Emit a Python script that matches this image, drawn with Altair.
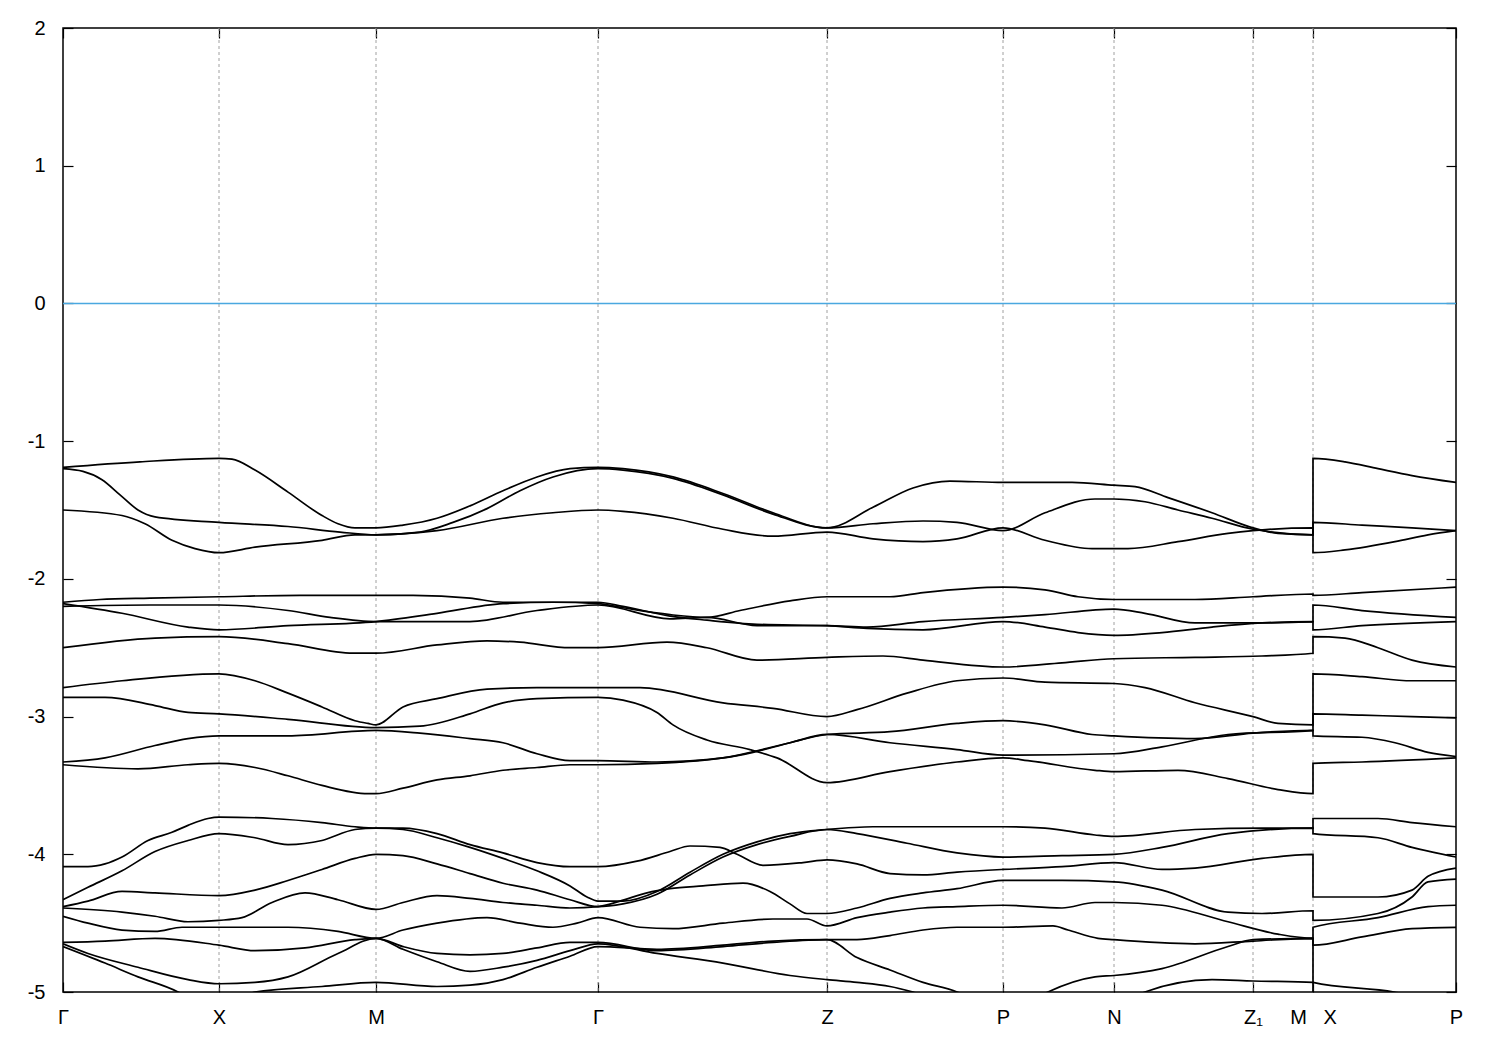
import altair as alt
import pandas as pd

# high-symmetry path positions (arbitrary path units) and labels
K_TICKS = [0, 156, 313, 535, 764, 940, 1051, 1190, 1250, 1393]
K_NAMES = ["Γ", "X", "M", "Γ", "Z", "P", "N", "Z₁", "M\u00a0\u00a0\u00a0X", "P"]
K_GRID = [156, 313, 535, 764, 940, 1051, 1190, 1250]
Y_TICKS = [-5, -4, -3, -2, -1, 0, 1, 2]
FERMI = [0.0]

# bands: (k, E in eV)
BAND_T1 = [(0,-1.19),(77,-1.15),(156,-1.125),(169,-1.13),(192,-1.21),(225,-1.37),(259,-1.54),(275,-1.60),(292,-1.63),(313,-1.63),(340,-1.61),(374,-1.56),(407,-1.47),(440,-1.36),(474,-1.26),(507,-1.20),(535,-1.19),(560,-1.20),(610,-1.26),(660,-1.38),(710,-1.52),(764,-1.63),(810,-1.48),(850,-1.34),(887,-1.29),(940,-1.30),(1009,-1.30),(1051,-1.32),(1072,-1.33),(1105,-1.41),(1149,-1.52),(1190,-1.63),(1215,-1.67),(1250,-1.68),(1250,-1.125),(1282,-1.15),(1315,-1.20),(1349,-1.25),(1393,-1.30)]
BAND_T2 = [(0,-1.20),(20,-1.22),(39,-1.28),(57,-1.39),(75,-1.50),(92,-1.55),(156,-1.59),(225,-1.62),(277,-1.66),(313,-1.68),(357,-1.66),(390,-1.59),(424,-1.49),(457,-1.36),(490,-1.26),(535,-1.20),(560,-1.21),(610,-1.27),(660,-1.39),(710,-1.53),(764,-1.63),(810,-1.60),(860,-1.58),(894,-1.59),(940,-1.65),(982,-1.52),(1032,-1.42),(1051,-1.42),(1082,-1.44),(1115,-1.50),(1149,-1.56),(1190,-1.64),(1250,-1.68),(1250,-1.59),(1299,-1.61),(1349,-1.63),(1393,-1.65)]
BAND_T3 = [(0,-1.50),(59,-1.54),(82,-1.60),(109,-1.72),(132,-1.78),(156,-1.81),(192,-1.77),(259,-1.72),(292,-1.68),(313,-1.68),(374,-1.65),(440,-1.56),(490,-1.52),(535,-1.50),(560,-1.51),(610,-1.56),(660,-1.64),(710,-1.69),(764,-1.66),(810,-1.71),(860,-1.73),(894,-1.71),(940,-1.63),(982,-1.72),(1029,-1.78),(1065,-1.78),(1115,-1.73),(1165,-1.67),(1190,-1.65),(1250,-1.63),(1250,-1.81),(1282,-1.79),(1332,-1.73),(1365,-1.68),(1393,-1.65)]

BAND_U1 = [(0,-2.17),(37,-2.15),(87,-2.14),(156,-2.13),(237,-2.12),(313,-2.12),(350,-2.12),(407,-2.14),(440,-2.17),(490,-2.17),(535,-2.18),(560,-2.21),(607,-2.26),(644,-2.28),(677,-2.23),(727,-2.16),(764,-2.13),(827,-2.13),(860,-2.10),(940,-2.06),(982,-2.08),(1015,-2.13),(1051,-2.15),(1132,-2.15),(1190,-2.13),(1250,-2.11),(1250,-2.12),(1299,-2.10),(1393,-2.06)]
BAND_U2 = [(0,-2.20),(87,-2.19),(156,-2.19),(225,-2.23),(267,-2.28),(313,-2.31),(340,-2.31),(407,-2.31),(474,-2.23),(535,-2.19),(607,-2.29),(644,-2.28),(694,-2.34),(764,-2.34),(804,-2.35),(860,-2.31),(940,-2.28),(982,-2.26),(1051,-2.22),(1082,-2.25),(1132,-2.32),(1190,-2.32),(1250,-2.31),(1250,-2.19),(1299,-2.23),(1393,-2.28)]
BAND_U3 = [(0,-2.18),(59,-2.25),(125,-2.35),(156,-2.37),(225,-2.34),(313,-2.31),(374,-2.25),(440,-2.18),(490,-2.17),(535,-2.17),(560,-2.20),(607,-2.27),(644,-2.30),(694,-2.33),(764,-2.34),(804,-2.36),(860,-2.37),(940,-2.31),(982,-2.35),(1015,-2.39),(1051,-2.41),(1099,-2.39),(1149,-2.35),(1199,-2.32),(1250,-2.31),(1250,-2.37),(1299,-2.34),(1393,-2.31)]
BAND_U4 = [(0,-2.50),(92,-2.43),(156,-2.42),(225,-2.47),(290,-2.54),(313,-2.54),(374,-2.48),(424,-2.45),(457,-2.46),(507,-2.50),(535,-2.50),(604,-2.46),(644,-2.50),(694,-2.59),(764,-2.57),(820,-2.56),(860,-2.59),(940,-2.64),(999,-2.61),(1051,-2.58),(1132,-2.57),(1199,-2.56),(1250,-2.54),(1250,-2.42),(1282,-2.43),(1315,-2.50),(1349,-2.59),(1393,-2.64)]

BAND_V1 = [(0,-2.79),(59,-2.74),(156,-2.69),(192,-2.74),(225,-2.83),(259,-2.93),(292,-3.03),(305,-3.05),(313,-3.06),(340,-2.93),(374,-2.87),(424,-2.80),(474,-2.79),(535,-2.79),(577,-2.79),(660,-2.90),(710,-2.94),(764,-3.00),(794,-2.95),(844,-2.83),(894,-2.74),(940,-2.72),(982,-2.75),(1051,-2.76),(1082,-2.79),(1132,-2.90),(1190,-3.00),(1215,-3.05),(1250,-3.06),(1250,-2.69),(1299,-2.71),(1349,-2.74),(1393,-2.74)]
BAND_V2 = [(0,-2.86),(42,-2.86),(92,-2.92),(125,-2.97),(156,-2.98),(225,-3.02),(313,-3.08),(357,-3.07),(407,-2.98),(440,-2.90),(474,-2.87),(535,-2.86),(560,-2.88),(594,-2.97),(610,-3.06),(644,-3.17),(687,-3.24),(714,-3.30),(764,-3.48),(827,-3.40),(894,-3.33),(940,-3.30),(965,-3.32),(1032,-3.39),(1051,-3.40),(1115,-3.39),(1165,-3.45),(1215,-3.53),(1250,-3.56),(1250,-3.34),(1299,-3.33),(1393,-3.30)]
BAND_V3 = [(0,-3.33),(42,-3.30),(92,-3.21),(125,-3.16),(156,-3.14),(225,-3.14),(313,-3.10),(357,-3.12),(407,-3.16),(440,-3.19),(474,-3.27),(507,-3.32),(535,-3.32),(594,-3.33),(660,-3.30),(690,-3.26),(727,-3.19),(764,-3.13),(827,-3.11),(894,-3.05),(940,-3.03),(982,-3.06),(1029,-3.13),(1051,-3.14),(1132,-3.16),(1190,-3.12),(1250,-3.10),(1250,-3.14),(1299,-3.15),(1332,-3.19),(1365,-3.26),(1393,-3.29)]
BAND_V4 = [(0,-3.35),(75,-3.38),(125,-3.35),(156,-3.34),(192,-3.37),(225,-3.43),(259,-3.50),(305,-3.56),(313,-3.56),(340,-3.52),(374,-3.46),(407,-3.43),(440,-3.39),(474,-3.37),(507,-3.35),(535,-3.35),(594,-3.34),(660,-3.30),(727,-3.19),(764,-3.13),(827,-3.19),(894,-3.24),(940,-3.28),(1051,-3.27),(1099,-3.22),(1165,-3.13),(1250,-3.10),(1250,-2.98),(1299,-2.99),(1349,-3.00),(1393,-3.01)]

BAND_Wa = [(0,-4.09),(25,-4.09),(42,-4.07),(59,-4.02),(85,-3.90),(109,-3.84),(125,-3.79),(145,-3.74),(156,-3.73),(209,-3.74),(259,-3.77),(292,-3.80),(313,-3.81),(340,-3.81),(374,-3.85),(407,-3.93),(440,-3.99),(474,-4.06),(507,-4.09),(535,-4.09),(574,-4.05),(607,-3.98),(627,-3.94),(657,-3.95),(674,-4.00),(700,-4.08),(740,-4.06),(764,-4.04),(794,-4.07),(827,-4.14),(860,-4.15),(894,-4.13),(940,-4.11),(999,-4.09),(1051,-4.06),(1099,-4.11),(1132,-4.10),(1199,-4.03),(1250,-4.00),(1250,-4.31),(1315,-4.31),(1349,-4.26),(1365,-4.16),(1393,-4.10)]
BAND_Wb = [(0,-4.33),(25,-4.24),(59,-4.12),(92,-3.98),(125,-3.90),(156,-3.85),(192,-3.88),(225,-3.93),(259,-3.90),(292,-3.82),(313,-3.81),(340,-3.82),(374,-3.88),(407,-3.95),(440,-4.03),(474,-4.12),(507,-4.23),(524,-4.31),(535,-4.34),(560,-4.34),(594,-4.27),(627,-4.13),(660,-4.00),(694,-3.91),(727,-3.85),(764,-3.82),(810,-3.80),(860,-3.80),(940,-3.80),(982,-3.81),(1032,-3.86),(1051,-3.87),(1132,-3.82),(1199,-3.81),(1250,-3.81),(1250,-3.74),(1315,-3.74),(1349,-3.77),(1393,-3.80)]
BAND_Wc = [(0,-4.38),(25,-4.34),(59,-4.27),(92,-4.28),(156,-4.30),(192,-4.26),(225,-4.19),(259,-4.11),(292,-4.03),(313,-4.00),(340,-4.01),(374,-4.07),(407,-4.14),(440,-4.21),(474,-4.26),(507,-4.33),(535,-4.38),(560,-4.36),(594,-4.29),(627,-4.15),(660,-4.02),(694,-3.93),(727,-3.87),(764,-3.82),(794,-3.85),(844,-3.92),(894,-3.99),(940,-4.02),(999,-4.01),(1051,-4.00),(1099,-3.95),(1165,-3.85),(1250,-3.81),(1250,-3.85),(1315,-3.88),(1349,-3.95),(1393,-4.02)]
BAND_Wd = [(0,-4.39),(59,-4.42),(92,-4.45),(125,-4.49),(156,-4.48),(179,-4.46),(209,-4.35),(242,-4.28),(275,-4.33),(313,-4.40),(340,-4.35),(374,-4.30),(407,-4.32),(440,-4.35),(474,-4.37),(507,-4.39),(535,-4.38),(557,-4.34),(584,-4.28),(607,-4.25),(640,-4.23),(680,-4.21),(707,-4.27),(727,-4.36),(744,-4.43),(764,-4.43),(794,-4.39),(827,-4.32),(860,-4.28),(894,-4.25),(940,-4.19),(999,-4.19),(1051,-4.20),(1099,-4.26),(1165,-4.42),(1199,-4.43),(1250,-4.41),(1250,-4.48),(1315,-4.43),(1349,-4.31),(1365,-4.20),(1393,-4.18)]
BAND_We = [(0,-4.45),(25,-4.50),(59,-4.55),(92,-4.56),(119,-4.53),(156,-4.53),(225,-4.53),(275,-4.56),(313,-4.61),(340,-4.55),(374,-4.50),(424,-4.46),(457,-4.50),(490,-4.53),(514,-4.50),(535,-4.46),(577,-4.53),(610,-4.54),(660,-4.50),(710,-4.47),(744,-4.47),(764,-4.52),(794,-4.46),(827,-4.42),(860,-4.39),(894,-4.38),(940,-4.37),(999,-4.39),(1032,-4.35),(1051,-4.35),(1099,-4.37),(1165,-4.49),(1215,-4.58),(1250,-4.61),(1250,-4.53),(1315,-4.46),(1365,-4.38),(1393,-4.37)]
BAND_Wf = [(0,-4.64),(42,-4.63),(92,-4.61),(156,-4.66),(192,-4.70),(242,-4.68),(292,-4.62),(313,-4.61),(340,-4.67),(374,-4.72),(407,-4.73),(440,-4.72),(474,-4.68),(507,-4.64),(535,-4.64),(594,-4.70),(660,-4.67),(710,-4.64),(764,-4.62),(794,-4.62),(827,-4.59),(860,-4.55),(894,-4.53),(940,-4.53),(990,-4.52),(1005,-4.55),(1035,-4.61),(1051,-4.62),(1132,-4.65),(1190,-4.63),(1250,-4.61),(1250,-4.66),(1299,-4.60),(1349,-4.54),(1393,-4.53)]
BAND_Wg = [(0,-4.65),(25,-4.72),(75,-4.82),(125,-4.91),(156,-4.94),(192,-4.93),(225,-4.89),(275,-4.72),(313,-4.61),(340,-4.69),(374,-4.78),(407,-4.85),(440,-4.82),(474,-4.77),(507,-4.70),(535,-4.65),(594,-4.72),(660,-4.79),(727,-4.88),(764,-4.91),(794,-4.93),(827,-4.96),(850,-5.0),(940,-5.25),(1051,-5.15),(1082,-5.0),(1149,-4.91),(1190,-4.92),(1250,-4.93),(1250,-5.2),(1393,-5.4)]
BAND_Wh = [(0,-4.67),(42,-4.79),(75,-4.89),(115,-5.0),(156,-5.2),(192,-5.0),(259,-4.96),(313,-4.93),(374,-4.96),(407,-4.95),(440,-4.91),(474,-4.82),(507,-4.74),(535,-4.67),(594,-4.69),(660,-4.66),(710,-4.63),(764,-4.62),(794,-4.75),(827,-4.84),(860,-4.93),(894,-5.0),(940,-5.2),(985,-5.0),(1032,-4.89),(1051,-4.88),(1099,-4.83),(1165,-4.67),(1190,-4.62),(1250,-4.61),(1250,-4.93),(1331,-5.0),(1393,-5.1)]

BANDS = {
    "T1": BAND_T1, "T2": BAND_T2, "T3": BAND_T3,
    "U1": BAND_U1, "U2": BAND_U2, "U3": BAND_U3, "U4": BAND_U4,
    "V1": BAND_V1, "V2": BAND_V2, "V3": BAND_V3, "V4": BAND_V4,
    "Wa": BAND_Wa, "Wb": BAND_Wb, "Wc": BAND_Wc, "Wd": BAND_Wd,
    "We": BAND_We, "Wf": BAND_Wf, "Wg": BAND_Wg, "Wh": BAND_Wh,
}

rows = []
for name, pts in BANDS.items():
    for i, (k, e) in enumerate(pts):
        rows.append({"band": name, "i": i, "k": k, "E": e})
bands_df = pd.DataFrame(rows)

FONT = "Liberation Sans"
FS = 20

xscale = alt.Scale(domain=[K_TICKS[0], K_TICKS[-1]], nice=False, zero=False)
yscale = alt.Scale(domain=[Y_TICKS[0], Y_TICKS[-1]], nice=False, zero=False)

x_label_expr = "''"
for v, n in reversed(list(zip(K_TICKS, K_NAMES))):
    x_label_expr = f"datum.value == {v} ? '{n}' : ({x_label_expr})"
y_label_expr = "datum.value < 0 ? '-' + (-datum.value) : '' + datum.value"

common_axis = dict(tickSize=10, offset=-10, domain=False, grid=False, title=None,
                   tickColor="black", tickWidth=1.2, labelFont=FONT,
                   labelFontSize=FS, labelColor="black")

# grid lines + mirrored top ticks
grid = alt.Chart(pd.DataFrame({"k": K_GRID})).mark_rule(
    color="#a0a0a0", strokeWidth=1, strokeDash=[3, 3]
).encode(
    x=alt.X("k:Q", scale=xscale,
            axis=alt.Axis(orient="top", values=K_TICKS, labels=False, **common_axis))
)

# Fermi level line + mirrored right ticks
zero = alt.Chart(pd.DataFrame({"E": FERMI})).mark_rule(
    color="#4aa8e0", strokeWidth=1.5
).encode(
    y=alt.Y("E:Q", scale=yscale,
            axis=alt.Axis(orient="right", values=Y_TICKS, labels=False, **common_axis))
)

lines = alt.Chart(bands_df).mark_line(
    color="black", strokeWidth=1.7, clip=True, interpolate="monotone"
).encode(
    x=alt.X("k:Q", scale=xscale,
            axis=alt.Axis(orient="bottom", values=K_TICKS, labelExpr=x_label_expr,
                          labelPadding=15, labelAngle=0, labelFlush=False, **common_axis)),
    y=alt.Y("E:Q", scale=yscale,
            axis=alt.Axis(orient="left", values=Y_TICKS, labelExpr=y_label_expr,
                          labelPadding=18, **common_axis)),
    detail="band:N",
    order=alt.Order("i:Q"),
)

chart = alt.layer(grid, zero, lines).resolve_axis(
    x="independent", y="independent"
).properties(
    width=1393, height=964,
    autosize=alt.AutoSizeParams(type="none"),
    padding={"left": 55, "top": 20, "right": 30, "bottom": 50},
).configure_view(stroke="black", strokeWidth=1.5)

chart.save("out.html", embed_options={"renderer": "svg", "actions": False})
